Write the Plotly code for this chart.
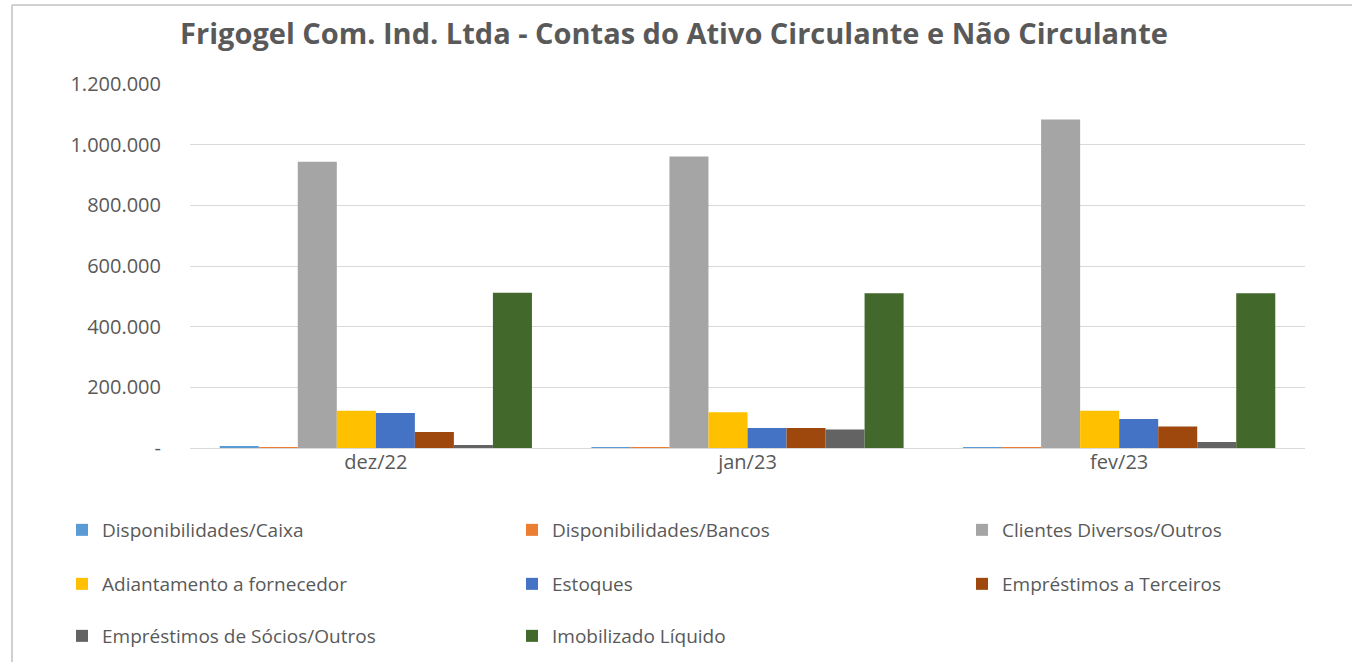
import plotly.graph_objects as go

categories = ["dez/22", "jan/23", "fev/23"]

series_names = [
    "Disponibilidades/Caixa",
    "Disponibilidades/Bancos",
    "Clientes Diversos/Outros",
    "Adiantamento a fornecedor",
    "Estoques",
    "Empréstimos a Terceiros",
    "Empréstimos de Sócios/Outros",
    "Imobilizado Líquido",
]

caixa = [5000, 1500, 1500]
bancos = [1500, 1000, 1000]
clientes = [944000, 961000, 1083000]
adiantamento = [123000, 118000, 123000]
estoques = [115000, 66000, 96000]
terceiros = [53000, 66000, 71000]
socios = [10000, 61000, 20000]
imobilizado = [512000, 510000, 510000]

series_values = [caixa, bancos, clientes, adiantamento, estoques, terceiros, socios, imobilizado]

colors = ["#5B9BD5", "#ED7D31", "#A5A5A5", "#FFC000", "#4472C4", "#9E480E", "#636363", "#43682B"]

y_tickvals = [0, 200000, 400000, 600000, 800000, 1000000, 1200000]
y_ticktext = ["-", "200.000", "400.000", "600.000", "800.000", "1.000.000", "1.200.000"]

W, H = 1352, 662
ml, mr, mt, mb = 190, 47, 84, 214
pw = W - ml - mr
ph = H - mt - mb

legend_cols = [62, 512, 962]
legend_rows = [530, 584, 636]

fig = go.Figure()
layout_legends = {}
for i, (name, vals, col) in enumerate(zip(series_names, series_values, colors)):
    lid = "legend" if i == 0 else f"legend{i + 1}"
    fig.add_trace(go.Bar(x=categories, y=vals, name=name, marker_color=col,
                         marker_line_width=0, legend=lid))
    r, c = divmod(i, 3)
    layout_legends[lid] = dict(
        orientation="h", xref="container", yref="container",
        x=legend_cols[c] / W, y=1 - legend_rows[r] / H,
        xanchor="left", yanchor="middle", itemwidth=30,
        font=dict(family="Open Sans", size=19, color="#595959"),
        bgcolor="rgba(0,0,0,0)")

fig.update_layout(
    width=W, height=H,
    margin=dict(l=ml, r=mr, t=mt, b=mb),
    paper_bgcolor="white", plot_bgcolor="white",
    barmode="group", bargap=0.16, bargroupgap=0,
    title=dict(text="<b>Frigogel Com. Ind. Ltda - Contas do Ativo Circulante e Não Circulante</b>",
               x=674 / W, xanchor="center", y=1 - 34 / H, yanchor="middle",
               font=dict(family="Open Sans", size=29, color="#595959")),
    xaxis=dict(showgrid=False, showline=False, ticks="",
               tickfont=dict(family="Open Sans", size=20, color="#595959")),
    yaxis=dict(range=[0, 1200000], tickvals=y_tickvals, ticktext=y_ticktext,
               showgrid=True, gridcolor="#D9D9D9", gridwidth=1,
               zeroline=True, zerolinecolor="#D9D9D9", zerolinewidth=1,
               showline=False, ticks="", ticklabelstandoff=28,
               tickfont=dict(family="Open Sans", size=20, color="#595959")),
    showlegend=True,
    **layout_legends,
)

# outer chart border (top and left edges visible)
fig.add_shape(type="line", xref="paper", yref="paper",
              x0=(12 - ml) / pw, x1=(W - ml) / pw,
              y0=(H - mb - 5) / ph, y1=(H - mb - 5) / ph,
              line=dict(color="#D0D0D0", width=2))
fig.add_shape(type="line", xref="paper", yref="paper",
              x0=(12 - ml) / pw, x1=(12 - ml) / pw,
              y0=(H - mb - 5) / ph, y1=(H - mb - H) / ph,
              line=dict(color="#D0D0D0", width=2))

fig.write_html("out.html", config={"displayModeBar": False},
               post_script="document.body.style.margin='0';")
